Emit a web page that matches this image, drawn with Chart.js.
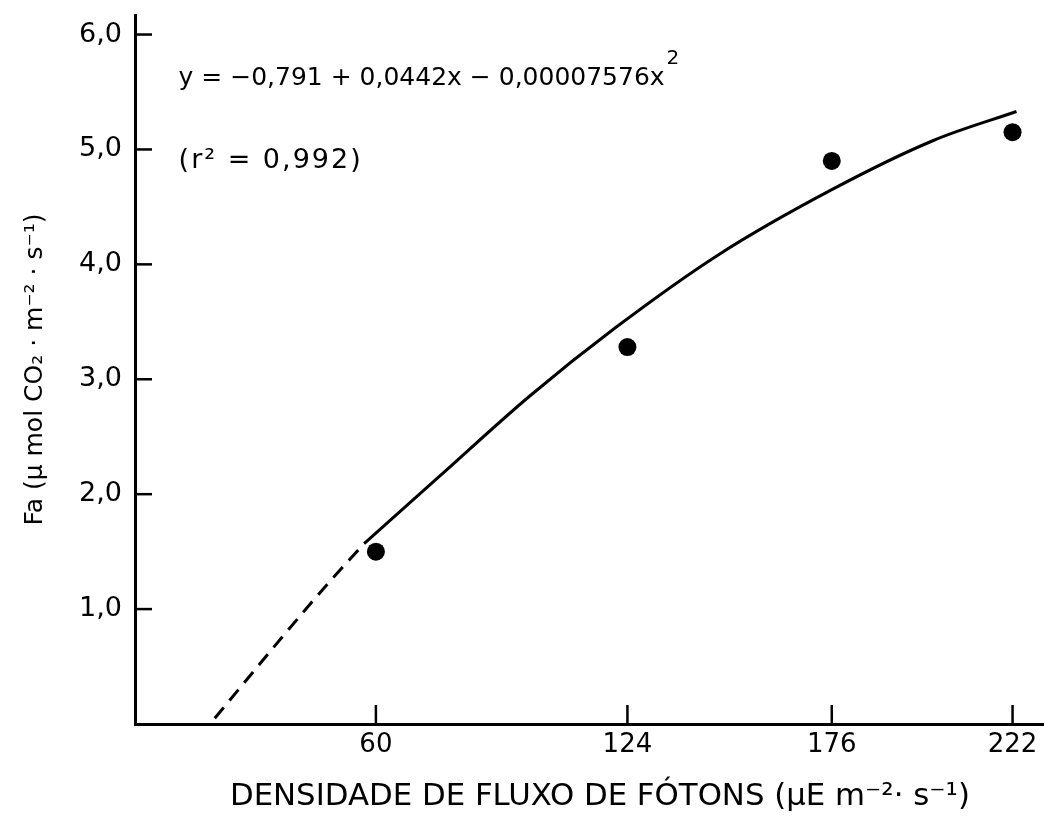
<!DOCTYPE html>
<html>
<head>
<meta charset="utf-8">
<script src="https://cdn.jsdelivr.net/npm/chart.js@4.4.0/dist/chart.umd.min.js"></script>
<style>
  html, body { margin: 0; padding: 0; background: #fff; }
</style>
</head>
<body>
<canvas id="chart" width="1044" height="819"></canvas>
<script>
/* Fa vs photon flux density - quadratic fit */

// measured points
const fluxX = [60, 124, 176, 222];
const faY = [1.50, 3.28, 4.90, 5.15];

// fitted curve (solid part)
const fitX = [57, 76, 99, 121, 147, 176, 202, 223];
const fitY = [1.57, 2.15, 2.85, 3.45, 4.08, 4.65, 5.08, 5.33];

// extrapolated part of the curve (dashed)
const extX = [19, 36, 48, 57];
const extY = [0.05, 0.75, 1.23, 1.57];

const xTicks = [60, 124, 176, 222];
const yTicks = [1, 2, 3, 4, 5, 6];

const eqText = 'y = −0,791 + 0,0442x − 0,00007576x';
const r2Text = '(r² = 0,992)';
const xTitle = 'DENSIDADE DE FLUXO DE FÓTONS (μE m⁻²· s⁻¹)';
const yTitle = 'Fa (μ mol CO₂ · m⁻² · s⁻¹)';

const toPts = (xs, ys) => xs.map((x, i) => ({ x, y: ys[i] }));
const comma = v => v.toFixed(1).replace('.', ',');

// tick marks pointing into the plot, like the original
const innerTicks = {
  id: 'innerTicks',
  afterDraw(chart) {
    const { ctx, scales: { x, y } } = chart;
    ctx.save();
    ctx.strokeStyle = '#000';
    ctx.lineWidth = 2.5;
    x.ticks.forEach(t => {
      const px = x.getPixelForValue(t.value);
      ctx.beginPath();
      ctx.moveTo(px, x.top);
      ctx.lineTo(px, x.top - 19);
      ctx.stroke();
    });
    y.ticks.forEach(t => {
      const py = y.getPixelForValue(t.value);
      ctx.beginPath();
      ctx.moveTo(y.right, py);
      ctx.lineTo(y.right + 17, py);
      ctx.stroke();
    });
    ctx.restore();
  }
};

// equation, r² and the x axis title
const notes = {
  id: 'notes',
  afterDraw(chart) {
    const { ctx, scales: { x, y } } = chart;
    ctx.save();
    ctx.fillStyle = '#000';
    ctx.textBaseline = 'middle';
    ctx.textAlign = 'left';

    const ex = x.getPixelForValue(9.8);
    const ey = y.getPixelForValue(5.62);
    ctx.font = '25px "DejaVu Sans", sans-serif';
    ctx.fillText(eqText, ex, ey);
    const w = ctx.measureText(eqText).width;
    ctx.font = '20px "DejaVu Sans", sans-serif';
    ctx.fillText('2', ex + w + 2, ey - 19);

    ctx.font = '27px "DejaVu Sans", sans-serif';
    ctx.letterSpacing = '2px';
    ctx.fillText(r2Text, ex, y.getPixelForValue(4.9));
    ctx.letterSpacing = '0px';

    // condensed title, squeezed to the original width
    ctx.font = '31px "DejaVu Sans", sans-serif';
    const tw = ctx.measureText(xTitle).width;
    const target = 740;
    ctx.translate(x.getPixelForValue(117), 797);
    ctx.scale(target / tw, 1);
    ctx.textAlign = 'center';
    ctx.fillText(xTitle, 0, 0);
    ctx.restore();
  }
};

new Chart(document.getElementById('chart'), {
  type: 'scatter',
  data: {
    datasets: [
      {
        label: 'Fa',
        data: toPts(fluxX, faY),
        backgroundColor: '#000',
        borderColor: '#000',
        pointRadius: 9,
        pointBorderWidth: 0
      },
      {
        label: 'ajuste',
        data: toPts(fitX, fitY),
        showLine: true,
        borderColor: '#000',
        borderWidth: 3,
        pointRadius: 0,
        cubicInterpolationMode: 'monotone'
      },
      {
        label: 'extrapolação',
        data: toPts(extX, extY),
        showLine: true,
        borderColor: '#000',
        borderWidth: 3,
        borderDash: [14, 9],
        pointRadius: 0,
        cubicInterpolationMode: 'monotone'
      }
    ]
  },
  options: {
    responsive: false,
    animation: false,
    layout: { autoPadding: false, padding: { top: 15, right: 0, left: 0, bottom: 0 } },
    plugins: {
      legend: { display: false },
      tooltip: { enabled: false }
    },
    scales: {
      x: {
        type: 'linear',
        min: -1.3,
        max: 230,
        afterBuildTicks: s => { s.ticks = xTicks.map(v => ({ value: v })); },
        afterFit: s => { s.height = 95; },
        border: { color: '#000', width: 3 },
        grid: { display: false, drawTicks: false },
        ticks: {
          color: '#000',
          padding: 6,
          font: { family: '"DejaVu Sans", sans-serif', size: 26 }
        }
      },
      y: {
        type: 'linear',
        min: 0,
        max: 6.17,
        afterBuildTicks: s => { s.ticks = yTicks.map(v => ({ value: v })); },
        afterFit: s => { s.width = 135; s.paddingTop = 0; s.paddingBottom = 0; },
        border: { color: '#000', width: 3 },
        grid: { display: false, drawTicks: false },
        ticks: {
          color: '#000',
          padding: 13,
          font: { family: '"DejaVu Sans", sans-serif', size: 27, lineHeight: 0.1 },
          callback: v => comma(v)
        },
        title: {
          display: true,
          text: yTitle,
          color: '#000',
          font: { family: '"DejaVu Sans", sans-serif', size: 25 },
          padding: { top: 20, bottom: 0 }
        }
      }
    }
  },
  plugins: [innerTicks, notes]
});
</script>
</body>
</html>
